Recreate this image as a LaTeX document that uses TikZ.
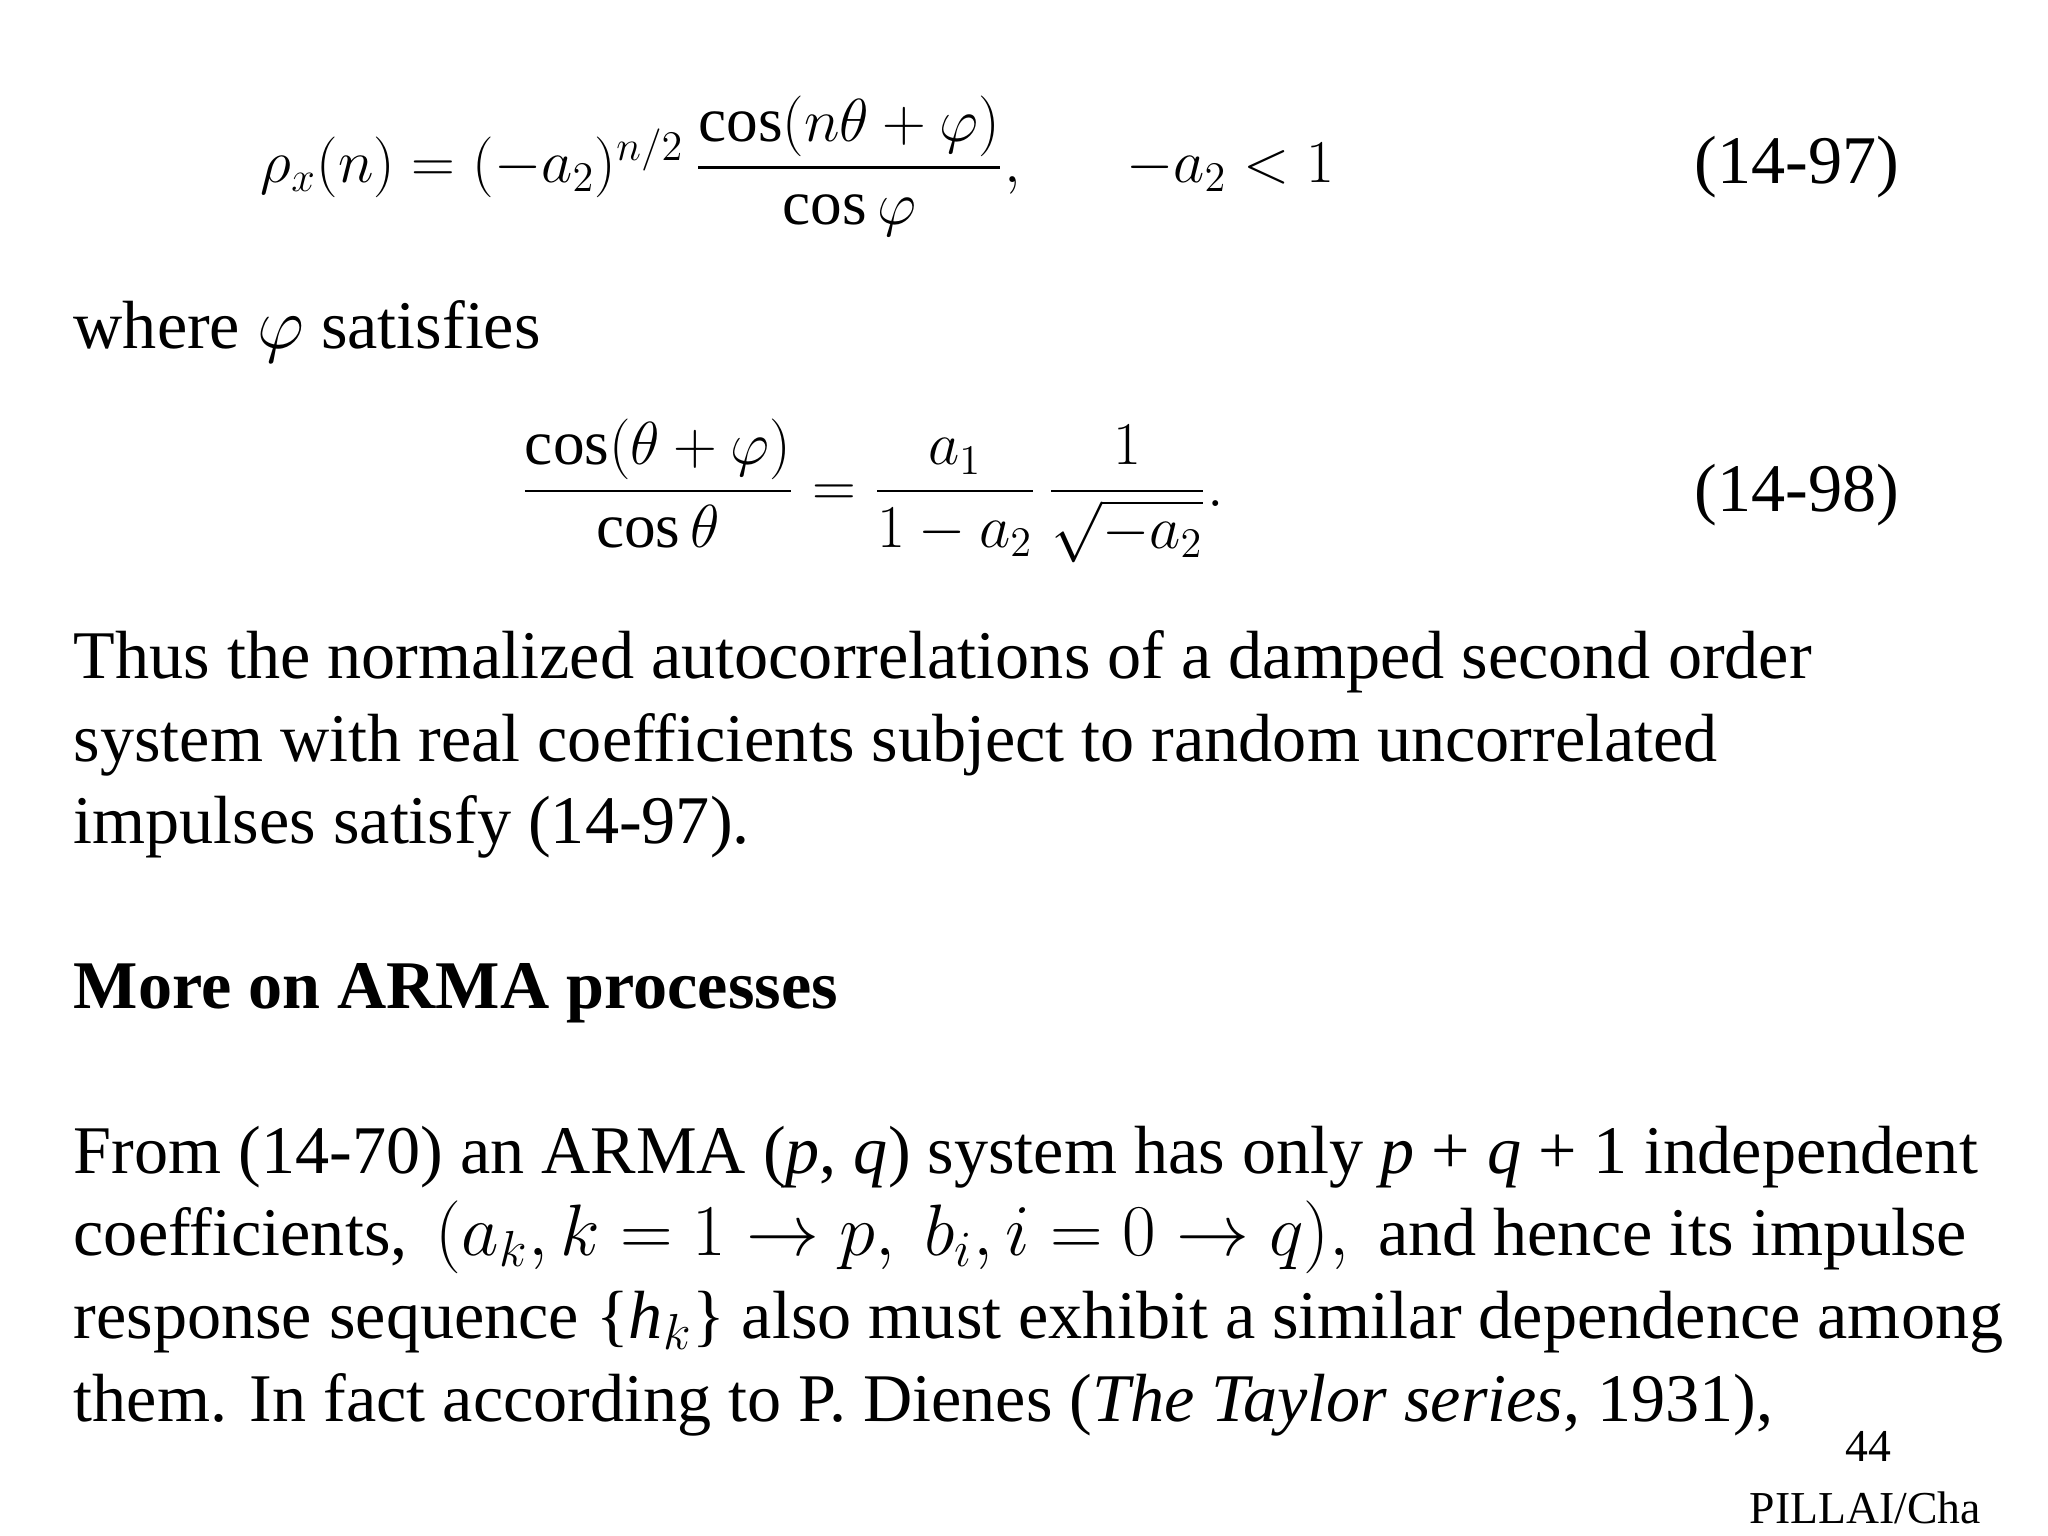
\documentclass[tikz,border=0pt]{standalone}
\usepackage{amsmath}
\usepackage{fontspec}
\setmainfont{Liberation Serif}
\begin{document}
\begin{tikzpicture}[x=1cm,y=1cm,
  txt/.style={anchor=base west,inner sep=0pt,font=\fontsize{19.4pt}{23pt}\selectfont},
  eq/.style={anchor=west,inner sep=0pt,font=\fontsize{18pt}{22pt}\selectfont}]
\useasboundingbox (0,0) rectangle (20.48,15.36);
\node[eq] (e1) at (2.6,13.7) {$\rho_x(n)=(-a_2)^{n/2}\,\dfrac{\cos(n\theta+\varphi)}{\cos\varphi},\quad\ \ -a_2<1$};
\node[txt] (n1) at (16.94,13.52) {(14-97)};
\node[txt] (w) at (0.73,11.87) {where $\varphi$ satisfies};
\node[eq] (e2) at (5.2,10.45) {$\dfrac{\cos(\theta+\varphi)}{\cos\theta}=\dfrac{a_1}{1-a_2}\,\dfrac{1}{\sqrt{-a_2}}.$};
\node[txt] (n2) at (16.94,10.24) {(14-98)};
\node[txt] (l1) at (0.73,8.57) {Thus the normalized autocorrelations of a damped second order};
\node[txt] (l2) at (0.73,7.74) {system with real coefficients subject to random uncorrelated};
\node[txt] (l3) at (0.73,6.92) {impulses satisfy (14-97).};
\node[txt] (h) at (0.73,5.27) {\bfseries More on ARMA processes};
\node[txt] (m1) at (0.73,3.62) {From (14-70) an ARMA (\textit{p}, \textit{q}) system has only \textit{p} + \textit{q} + 1 independent};
\node[txt] (m2) at (0.73,2.80) {coefficients, \,$(a_k,k=1\rightarrow p,\ b_i,i=0\rightarrow q),$\, and hence its impulse};
\node[txt] (m3) at (0.73,1.97) {response sequence \{\textit{h}$_k$\} also must exhibit a similar dependence among};
\node[txt] (m4) at (0.73,1.14) {them. In fact according to P. Dienes (\textit{The Taylor series}, 1931),};
\node[anchor=base east,inner sep=0pt,font=\fontsize{13pt}{15pt}\selectfont] (p) at (18.92,0.74) {44};
\node[anchor=base west,inner sep=0pt,font=\fontsize{13pt}{15pt}\selectfont] (c) at (17.49,0.12) {PILLAI/Cha};
\end{tikzpicture}
\end{document}
